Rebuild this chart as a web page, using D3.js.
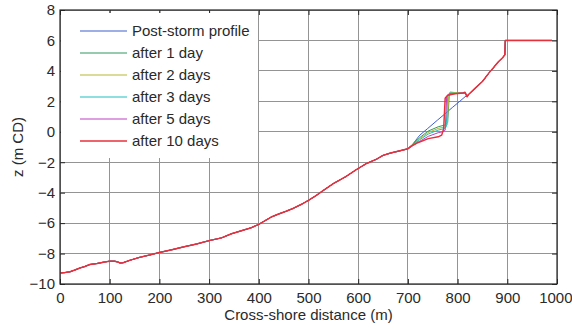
<!DOCTYPE html>
<html><head><meta charset="utf-8">
<script src="https://cdn.jsdelivr.net/npm/d3@7"></script>
<style>
html,body{margin:0;padding:0;background:#fff;}
svg text{font-family:"Liberation Sans",Arial,Helvetica,sans-serif;fill:#2a2a2a;}
</style></head>
<body><svg id="c" width="572" height="329"></svg>
<script>
// ---- data ----
const xTicks = [0,100,200,300,400,500,600,700,800,900,1000];
const yTicks = [-10,-8,-6,-4,-2,0,2,4,6,8];
const seriesNames = ["Post-storm profile","after 1 day","after 2 days","after 3 days","after 5 days","after 10 days"];
const seriesColors = ["#3f5fcf","#2f9a5c","#b5b535","#1fbfbf","#bf3fbf","#e8303c"];

// common seaward profile (m, m CD)
const baseX = [0,10,20,30,40,50,60,75,90,100,110,116,121,127,140,160,180,200,225,250,275,300,325,345,365,385,400,412,425,440,455,470,485,500,515,530,550,575,597,617,637,650,665,684,700];
const baseZ = [-9.27,-9.25,-9.2,-9.08,-8.95,-8.85,-8.72,-8.65,-8.55,-8.5,-8.5,-8.55,-8.62,-8.6,-8.45,-8.25,-8.1,-7.93,-7.75,-7.55,-7.37,-7.15,-6.97,-6.7,-6.5,-6.3,-6.08,-5.85,-5.6,-5.4,-5.22,-5.02,-4.78,-4.5,-4.2,-3.85,-3.4,-2.95,-2.47,-2.08,-1.8,-1.55,-1.4,-1.25,-1.12];
// common landward profile
const upperX = [822,835,850,862,872,882,890,895,896,990];
const upperZ = [2.45,2.85,3.3,3.82,4.2,4.6,4.85,5.05,6.0,6.0];

// dune section of each profile
const postX  = [704,710,716,724,740,760,775,790,805,815];
const postZ  = [-1.0,-0.8,-0.55,-0.22,0.22,0.78,1.19,1.61,2.02,2.3];
const day1X  = [704,712,724,741,761,775,780,783,786,800,812,816,819];
const day1Z  = [-1.0,-0.75,-0.38,0.05,0.33,0.45,0.6,2.3,2.55,2.55,2.55,2.5,2.3];
const day2X  = [704,712,724,741,761,774,779,782,785,800,812,816,819];
const day2Z  = [-1.02,-0.8,-0.45,-0.05,0.22,0.32,0.45,2.3,2.62,2.55,2.55,2.5,2.3];
const day3X  = [704,712,724,741,761,772,777,780,784,800,812,816,819];
const day3Z  = [-1.03,-0.83,-0.52,-0.15,0.11,0.2,0.3,2.3,2.55,2.52,2.55,2.5,2.3];
const day5X  = [704,712,724,741,761,770,775,778,782,800,812,816,819];
const day5Z  = [-1.05,-0.86,-0.62,-0.3,-0.06,0.0,0.1,2.3,2.48,2.52,2.55,2.55,2.3];
const day10X = [704,712,721,741,761,768,772,775,780,795,811,815,819];
const day10Z = [-1.0,-0.85,-0.7,-0.45,-0.33,-0.22,0.2,2.2,2.4,2.5,2.55,2.6,2.3];

const midX = [postX,day1X,day2X,day3X,day5X,day10X];
const midZ = [postZ,day1Z,day2Z,day3Z,day5Z,day10Z];

// ---- chart ----
const svg = d3.select("#c");
const L=60,R=557,T=10,B=284;
const x = d3.scaleLinear().domain([0,1000]).range([L,R]);
const y = d3.scaleLinear().domain([-10,8]).range([B,T]);

svg.append("defs").append("clipPath").attr("id","clip")
  .append("rect").attr("x",L).attr("y",T).attr("width",R-L).attr("height",B-T);

// grid
const g = svg.append("g");
g.selectAll(".vg").data(xTicks).join("line")
  .attr("x1",d=>x(d)).attr("x2",d=>x(d)).attr("y1",T).attr("y2",B)
  .attr("stroke","#949494").attr("stroke-width",1).attr("shape-rendering","crispEdges");
g.selectAll(".hg").data(yTicks).join("line")
  .attr("y1",d=>y(d)).attr("y2",d=>y(d)).attr("x1",L).attr("x2",R)
  .attr("stroke","#949494").attr("stroke-width",1).attr("shape-rendering","crispEdges");

// lines
const line = d3.line().x(d=>x(d[0])).y(d=>y(d[1]));
const plot = svg.append("g").attr("clip-path","url(#clip)");
seriesNames.forEach((name,i)=>{
  const pts = [];
  baseX.forEach((v,k)=>pts.push([v,baseZ[k]]));
  midX[i].forEach((v,k)=>pts.push([v,midZ[i][k]]));
  upperX.forEach((v,k)=>pts.push([v,upperZ[k]]));
  plot.append("path").datum(pts).attr("d",line)
    .attr("fill","none").attr("stroke",seriesColors[i])
    .attr("stroke-width", i===5?1.5:1).attr("stroke-linejoin","round");
});

// axes
const axB = d3.axisBottom(x).tickValues(xTicks).tickSize(-5).tickPadding(8).tickFormat(d3.format("d"));
const axT = d3.axisTop(x).tickValues(xTicks).tickSize(-5).tickFormat("");
const axL = d3.axisLeft(y).tickValues(yTicks).tickSize(-5).tickPadding(5).tickFormat(d3.format("d"));
const axR = d3.axisRight(y).tickValues(yTicks).tickSize(-5).tickFormat("");
function style(sel){
  sel.select(".domain").remove();
  sel.selectAll("line").attr("stroke","#262626");
  sel.selectAll("text").attr("font-size","15px").attr("fill","#2a2a2a").attr("font-family","Liberation Sans, Arial, sans-serif");
}
const gB = svg.append("g").attr("transform",`translate(0,${B})`).call(axB).call(style);
// keep the last label inside the picture
gB.selectAll(".tick").filter(d=>d===1000).select("text").attr("text-anchor","end").attr("x",15);
svg.append("g").attr("transform",`translate(0,${T})`).call(axT).call(style);
svg.append("g").attr("transform",`translate(${L},0)`).call(axL).call(style);
svg.append("g").attr("transform",`translate(${R},0)`).call(axR).call(style);

// legend
const lg = svg.append("g");
lg.append("rect").attr("x",61).attr("y",13).attr("width",197).attr("height",145).attr("fill","#fff");
seriesNames.forEach((name,i)=>{
  const cy = 31 + i*22;
  lg.append("line").attr("x1",80).attr("x2",127).attr("y1",cy).attr("y2",cy)
    .attr("stroke",seriesColors[i]).attr("stroke-width", i===5?1.6:1.2);
  lg.append("text").attr("x",132).attr("y",cy+5).attr("font-size","15px").text(name);
});

// box
svg.append("rect").attr("x",L).attr("y",T).attr("width",R-L).attr("height",B-T)
  .attr("fill","none").attr("stroke","#262626").attr("stroke-width",1.2);

// titles
svg.append("text").attr("x",(L+R)/2).attr("y",320).attr("text-anchor","middle")
  .attr("font-size","15px").text("Cross-shore distance (m)");
svg.append("text").attr("transform",`translate(23,${(T+B)/2}) rotate(-90)`).attr("text-anchor","middle")
  .attr("font-size","15px").text("z (m CD)");
</script></body></html>
